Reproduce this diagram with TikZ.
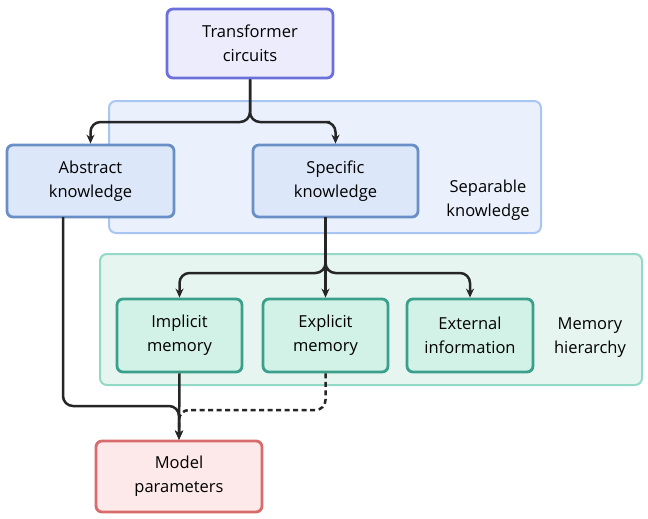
\documentclass[tikz,border=0pt]{standalone}
\usepackage{fontspec}
\setmainfont{Open Sans}
\usetikzlibrary{arrows.meta}
\definecolor{topf}{HTML}{ECECFD}\definecolor{topd}{HTML}{6B70DA}
\definecolor{sgf}{HTML}{EAF1FD}\definecolor{sgd}{HTML}{A9C5F1}
\definecolor{kf}{HTML}{DCE8FA}\definecolor{kd}{HTML}{6A8EC6}
\definecolor{mgf}{HTML}{E7F5F1}\definecolor{mgd}{HTML}{92D9C6}
\definecolor{mf}{HTML}{D2F1E7}\definecolor{md}{HTML}{3BA08B}
\definecolor{pf}{HTML}{FDE9E9}\definecolor{pd}{HTML}{D86B6B}
\begin{document}
\begin{tikzpicture}[x=1pt,y=-1pt,font=\fontsize{16.5}{24}\selectfont,
 box/.style={draw,line width=2.8pt,rounded corners=6pt,align=center,inner sep=0pt},
 grp/.style={draw,line width=2pt,rounded corners=7pt},
 arr/.style={line width=2.5pt,draw=black!85,-{Stealth[length=9pt,width=8pt]},rounded corners=10pt}]
\useasboundingbox (0,0) rectangle (648,519);
\fill[white] (0,0) rectangle (648,519);
\draw[grp,draw=sgd,fill=sgf] (109,101) rectangle (541,233);
\draw[grp,draw=mgd,fill=mgf] (100,254) rectangle (642,385);
\node[align=center] (sl) at (488,200) {Separable\\knowledge};
\node[align=center] (ml) at (590,338) {Memory\\hierarchy};
\node[box,draw=topd,fill=topf,minimum width=166pt,minimum height=69pt] (tc) at (250,43.5) {Transformer\\circuits};
\node[box,draw=kd,fill=kf,minimum width=167pt,minimum height=72pt] (ak) at (90.5,181) {Abstract\\knowledge};
\node[box,draw=kd,fill=kf,minimum width=165pt,minimum height=72pt] (sk) at (335.5,181) {Specific\\knowledge};
\node[box,draw=md,fill=mf,minimum width=125pt,minimum height=73pt] (im) at (179.5,335.5) {Implicit\\memory};
\node[box,draw=md,fill=mf,minimum width=125pt,minimum height=73pt] (em) at (325.5,335.5) {Explicit\\memory};
\node[box,draw=md,fill=mf,minimum width=126pt,minimum height=73pt] (ei) at (470,335.5) {External\\information};
\node[box,draw=pd,fill=pf,minimum width=166pt,minimum height=71pt] (mp) at (179,476.5) {Model\\parameters};
\coordinate (sb) at (325.5,217);
\coordinate (ab) at (63,217);
\draw[arr] (tc.south) |- (170,122) -| (ak.north);
\draw[arr] (tc.south) |- (320,122) -| (sk.north);
\draw[arr] (sb) |- (200,273) -| (im.north);
\draw[arr] (sb) -- (em.north);
\draw[arr] (sb) |- (450,273) -| (ei.north);
\draw[arr] (ab) |- (150,406) -| (mp.north);
\draw[arr] (im.south) -- (mp.north);
\draw[arr,dash pattern=on 5pt off 3.5pt] (em.south) |- (200,410) -| (mp.north);
\end{tikzpicture}
\end{document}
